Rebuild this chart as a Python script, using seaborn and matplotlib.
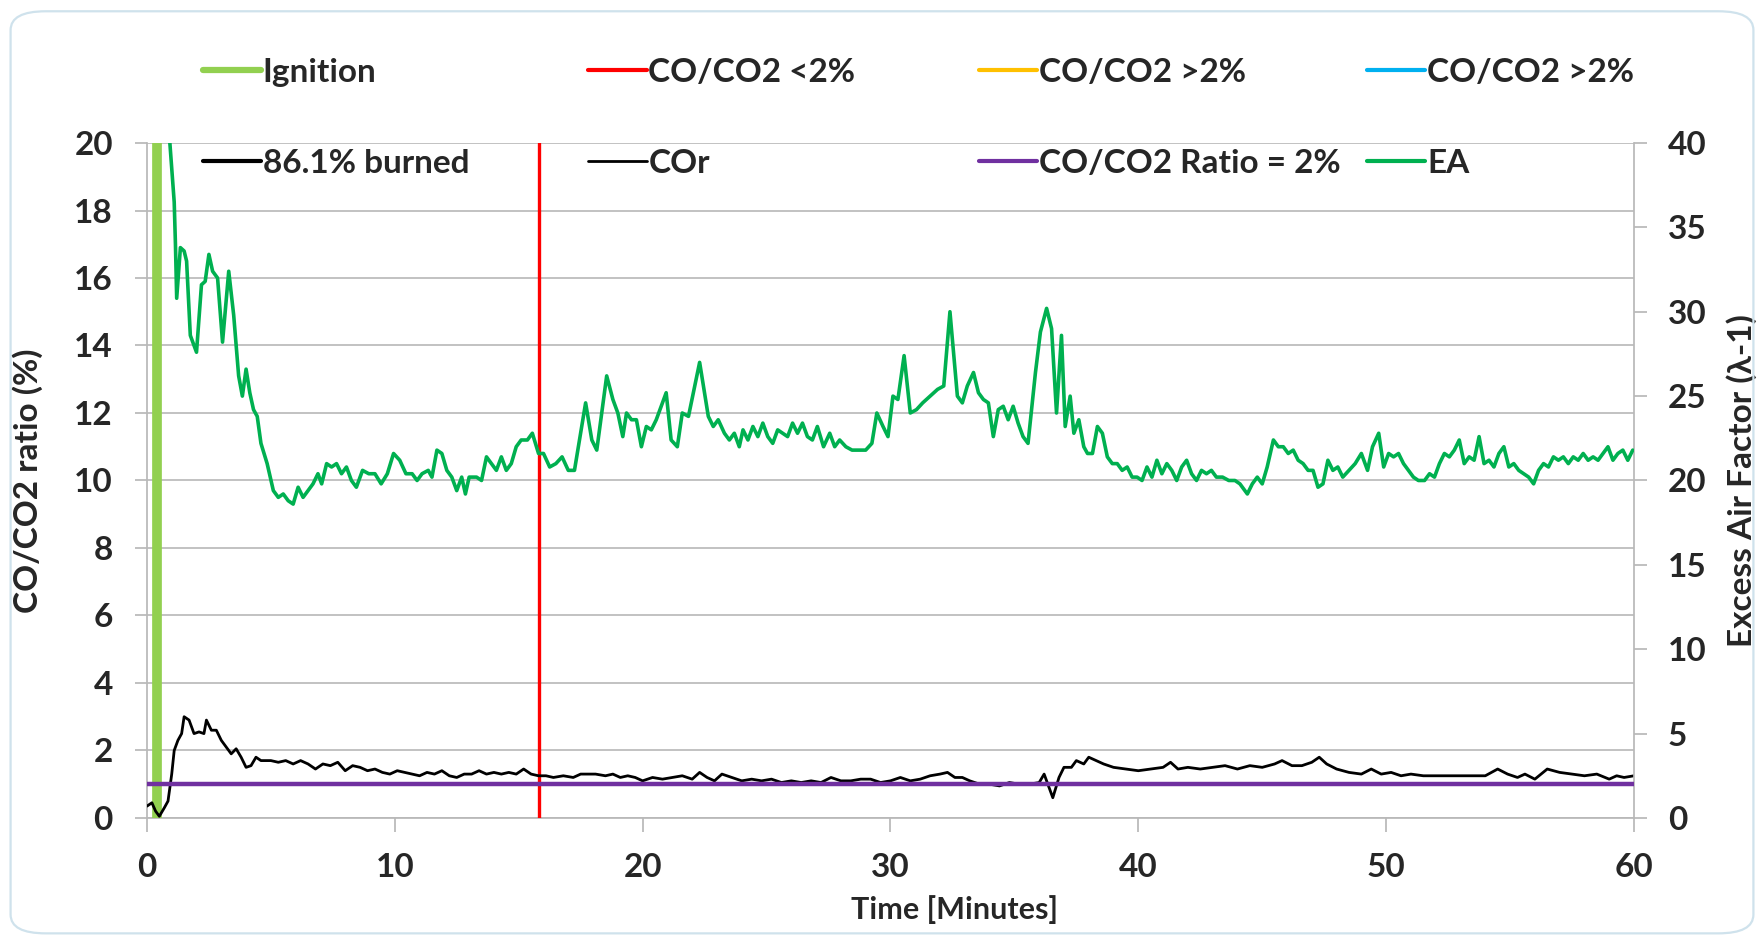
import numpy as np
import pandas as pd
import matplotlib
matplotlib.use("Agg")
import matplotlib.pyplot as plt
import seaborn as sns
from matplotlib.lines import Line2D
from matplotlib.patches import FancyBboxPatch

# Excess air factor (right axis)
ea_time = [0.75, 0.90, 1.00, 1.10, 1.15, 1.20, 1.35, 1.50, 1.60, 1.75, 2.00, 2.20, 2.35, 2.50, 2.65,
           2.85, 3.05, 3.30, 3.50, 3.70, 3.85, 4.00, 4.15, 4.30, 4.45, 4.60, 4.85, 5.10, 5.30, 5.50,
           5.70, 5.90, 6.10, 6.30, 6.50, 6.70, 6.90, 7.05, 7.25, 7.45, 7.65, 7.85, 8.05, 8.25, 8.45,
           8.70, 8.95, 9.20, 9.45, 9.70, 9.95, 10.20, 10.45, 10.70, 10.90, 11.10, 11.35, 11.50, 11.70,
           11.90, 12.10, 12.30, 12.50, 12.70, 12.85, 13.00, 13.30, 13.50, 13.70, 13.90, 14.10, 14.30,
           14.50, 14.70, 14.90, 15.10, 15.35, 15.55, 15.80, 16.00, 16.25, 16.50, 16.75, 17.00, 17.25,
           17.70, 17.95, 18.15, 18.55, 18.80, 19.00, 19.20, 19.35, 19.55, 19.75, 19.95, 20.15, 20.35,
           20.55, 20.95, 21.15, 21.40, 21.60, 21.85, 22.30, 22.65, 22.85, 23.05, 23.30, 23.50, 23.70,
           23.90, 24.05, 24.25, 24.45, 24.65, 24.85, 25.05, 25.25, 25.45, 25.65, 25.85, 26.05, 26.25,
           26.45, 26.65, 26.85, 27.05, 27.30, 27.55, 27.75, 27.95, 28.20, 28.45, 28.75, 29.00, 29.25,
           29.45, 29.70, 29.90, 30.10, 30.30, 30.55, 30.80, 31.05, 31.30, 31.60, 31.90, 32.15, 32.40,
           32.70, 32.90, 33.10, 33.35, 33.55, 33.75, 33.95, 34.15, 34.35, 34.55, 34.75, 34.95, 35.15,
           35.35, 35.55, 35.85, 36.05, 36.30, 36.50, 36.70, 36.90, 37.05, 37.25, 37.40, 37.60, 37.80,
           37.95, 38.15, 38.35, 38.55, 38.75, 38.95, 39.15, 39.35, 39.55, 39.75, 39.95, 40.15, 40.35,
           40.55, 40.75, 40.95, 41.15, 41.35, 41.55, 41.75, 41.95, 42.15, 42.35, 42.55, 42.75, 42.95,
           43.15, 43.40, 43.65, 43.90, 44.10, 44.40, 44.60, 44.80, 45.00, 45.20, 45.45, 45.65, 45.85,
           46.05, 46.25, 46.45, 46.65, 46.85, 47.05, 47.25, 47.45, 47.65, 47.85, 48.05, 48.25, 48.50,
           48.75, 49.00, 49.25, 49.45, 49.70, 49.90, 50.10, 50.30, 50.50, 50.70, 50.90, 51.10, 51.30,
           51.55, 51.75, 51.95, 52.15, 52.35, 52.55, 52.75, 52.95, 53.15, 53.35, 53.55, 53.75, 53.95,
           54.15, 54.35, 54.55, 54.75, 54.95, 55.15, 55.35, 55.55, 55.75, 55.95, 56.15, 56.35, 56.55,
           56.75, 56.95, 57.15, 57.35, 57.55, 57.75, 57.95, 58.15, 58.35, 58.55, 58.75, 58.95, 59.15,
           59.35, 59.55, 59.75, 59.95]
ea_value = [44.0, 40.5, 38.5, 36.5, 34.0, 30.8, 33.8, 33.6, 33.0, 28.6, 27.6, 31.6, 31.8, 33.4, 32.4,
            32.0, 28.2, 32.4, 29.8, 26.2, 25.0, 26.6, 25.2, 24.2, 23.8, 22.2, 21.0, 19.4, 19.0, 19.2,
            18.8, 18.6, 19.6, 19.0, 19.4, 19.8, 20.4, 19.8, 21.0, 20.8, 21.0, 20.4, 20.8, 20.0, 19.6,
            20.6, 20.4, 20.4, 19.8, 20.4, 21.6, 21.2, 20.4, 20.4, 20.0, 20.4, 20.6, 20.2, 21.8,
            21.6, 20.6, 20.2, 19.4, 20.2, 19.2, 20.2, 20.2, 20.0, 21.4, 21.0, 20.6, 21.4,
            20.6, 21.0, 22.0, 22.4, 22.4, 22.8, 21.6, 21.6, 20.8, 21.0, 21.4, 20.6, 20.6,
            24.6, 22.4, 21.8, 26.2, 24.8, 24.0, 22.6, 24.0, 23.6, 23.6, 22.0, 23.2, 23.0,
            23.6, 25.2, 22.4, 22.0, 24.0, 23.8, 27.0, 23.8, 23.2, 23.6, 22.8, 22.4, 22.8,
            22.0, 23.0, 22.4, 23.2, 22.6, 23.4, 22.6, 22.2, 23.0, 22.8, 22.6, 23.4, 22.8,
            23.4, 22.6, 22.4, 23.2, 22.0, 22.8, 22.0, 22.4, 22.0, 21.8, 21.8, 21.8, 22.2,
            24.0, 23.2, 22.6, 25.0, 24.8, 27.4, 24.0, 24.2, 24.6, 25.0, 25.4, 25.6, 30.0,
            25.0, 24.6, 25.6, 26.4, 25.2, 24.8, 24.6, 22.6, 24.2, 24.4, 23.6, 24.4, 23.4,
            22.6, 22.2, 26.4, 28.8, 30.2, 29.0, 24.0, 28.6, 23.2, 25.0, 22.8, 23.6, 22.0,
            21.6, 21.6, 23.2, 22.8, 21.4, 21.0, 21.0, 20.6, 20.8, 20.2, 20.2, 20.0, 20.8,
            20.2, 21.2, 20.4, 21.0, 20.6, 20.0, 20.8, 21.2, 20.4, 20.0, 20.6, 20.4, 20.6,
            20.2, 20.2, 20.0, 20.0, 19.8, 19.2, 19.8, 20.2, 19.8, 20.8, 22.4, 22.0, 22.0,
            21.6, 21.8, 21.2, 21.0, 20.6, 20.6, 19.6, 19.8, 21.2, 20.6, 20.8, 20.2, 20.6,
            21.0, 21.6, 20.6, 22.0, 22.8, 20.8, 21.6, 21.4, 21.6, 21.0, 20.6, 20.2, 20.0,
            20.0, 20.4, 20.2, 21.0, 21.6, 21.4, 21.8, 22.4, 21.0, 21.4, 21.2, 22.6, 21.0,
            21.2, 20.8, 21.6, 22.0, 20.8, 21.0, 20.6, 20.4, 20.2, 19.8, 20.6, 21.0, 20.8,
            21.4, 21.2, 21.4, 21.0, 21.4, 21.2, 21.6, 21.2, 21.4, 21.2, 21.6, 22.0, 21.2,
            21.6, 21.8, 21.2, 21.8]

# CO/CO2 ratio (left axis)
cor_time = [0.0, 0.2, 0.35, 0.5, 0.7, 0.85, 1.0, 1.1, 1.25, 1.4, 1.5, 1.7, 1.9, 2.1, 2.3, 2.4, 2.6,
            2.8, 3.0, 3.2, 3.4, 3.6, 3.8, 4.0, 4.2, 4.4, 4.6, 5.0, 5.3, 5.6, 5.9, 6.2, 6.5, 6.8, 7.1,
            7.4, 7.7, 8.0, 8.3, 8.6, 8.9, 9.2, 9.5, 9.8, 10.1, 10.4, 10.7, 11.0, 11.3, 11.6, 11.9,
            12.2, 12.5, 12.8, 13.1, 13.4, 13.7, 14.0, 14.3, 14.6, 14.9, 15.2, 15.5, 15.8, 16.1, 16.4,
            16.8, 17.2, 17.5, 17.8, 18.1, 18.5, 18.8, 19.1, 19.4, 19.7, 20.0, 20.4, 20.8, 21.2, 21.6,
            22.0, 22.3, 22.6, 22.9, 23.2, 23.6, 24.0, 24.4, 24.8, 25.2, 25.6, 26.0, 26.4, 26.8, 27.2,
            27.6, 28.0, 28.4, 28.8, 29.2, 29.6, 30.0, 30.4, 30.8, 31.2, 31.6, 32.0, 32.3, 32.6, 32.9,
            33.2, 33.6, 34.0, 34.4, 34.8, 35.2, 35.6, 36.0, 36.2, 36.4, 36.55, 36.8, 37.0, 37.3, 37.5,
            37.8, 38.0, 38.3, 38.6, 39.0, 39.5, 40.0, 40.5, 41.0, 41.3, 41.6, 42.0, 42.5, 43.0, 43.5,
            44.0, 44.5, 45.0, 45.5, 45.8, 46.2, 46.6, 47.0, 47.3, 47.6, 48.0, 48.5, 49.0, 49.4, 49.8,
            50.2, 50.6, 51.0, 51.5, 52.0, 52.5, 53.0, 53.5, 54.0, 54.5, 54.9, 55.3, 55.6, 56.0, 56.5,
            57.0, 57.5, 58.0, 58.5, 59.0, 59.3, 59.6, 60.0]
cor_value = [0.35, 0.45, 0.2, 0.05, 0.3, 0.5, 1.3, 2.0, 2.3, 2.5, 3.0, 2.9, 2.5, 2.55, 2.5, 2.9, 2.6,
             2.6, 2.3, 2.1, 1.9, 2.05, 1.8, 1.5, 1.55, 1.8, 1.7, 1.7, 1.65, 1.7, 1.6, 1.7, 1.6, 1.45,
             1.6, 1.55, 1.65, 1.4, 1.55, 1.5, 1.4, 1.45, 1.35, 1.3, 1.4, 1.35, 1.3, 1.25, 1.35, 1.3,
             1.4, 1.25, 1.2, 1.3, 1.3, 1.4, 1.3, 1.35, 1.3, 1.35, 1.3, 1.45, 1.3, 1.25, 1.25, 1.2,
             1.25, 1.2, 1.3, 1.3, 1.3, 1.25, 1.3, 1.2, 1.25, 1.2, 1.1, 1.2, 1.15, 1.2, 1.25,
             1.15, 1.35, 1.2, 1.1, 1.3, 1.2, 1.1, 1.15, 1.1, 1.15, 1.05, 1.1, 1.05, 1.1, 1.05,
             1.2, 1.1, 1.1, 1.15, 1.15, 1.05, 1.1, 1.2, 1.1, 1.15, 1.25, 1.3, 1.35, 1.2, 1.2,
             1.1, 1.0, 1.0, 0.95, 1.05, 1.0, 1.0, 1.05, 1.3, 0.9, 0.6, 1.2, 1.5, 1.5, 1.7,
             1.6, 1.8, 1.7, 1.6, 1.5, 1.45, 1.4, 1.45, 1.5, 1.65, 1.45, 1.5, 1.45, 1.5, 1.55,
             1.45, 1.55, 1.5, 1.6, 1.7, 1.55, 1.55, 1.65, 1.8, 1.6, 1.45, 1.35, 1.3, 1.45, 1.3,
             1.35, 1.25, 1.3, 1.25, 1.25, 1.25, 1.25, 1.25, 1.25, 1.45, 1.3, 1.2, 1.3, 1.15, 1.45,
             1.35, 1.3, 1.25, 1.3, 1.15, 1.25, 1.2, 1.25]

ignition_time = 0.4      # minutes
threshold_time = 15.8    # CO/CO2 drops below 2 %
ratio_limit = 2.0        # on the EA scale

legend_labels = ["Ignition", "86.1% burned", "CO/CO2 <2%", "COr",
                 "CO/CO2 >2%", "CO/CO2 Ratio = 2%", "CO/CO2 >2%", "EA"]

x_ticks = [0, 10, 20, 30, 40, 50, 60]
left_ticks = [0, 2, 4, 6, 8, 10, 12, 14, 16, 18, 20]
right_ticks = [0, 5, 10, 15, 20, 25, 30, 35, 40]

sns.set_theme(style="white")
plt.rcParams['font.family'] = ['Lato', 'DejaVu Sans']
plt.rcParams['font.weight'] = 'bold'

ea_df = pd.DataFrame({"time": ea_time, "EA": ea_value})
cor_df = pd.DataFrame({"time": cor_time, "COr": cor_value})

fig = plt.figure(figsize=(17.64, 9.39), dpi=100)
ax = fig.add_axes([0.0833, 0.1289, 0.843, 0.7188])
ax2 = ax.twinx()

green_ign = "#92D050"
red = "#FF0000"
purple = "#7030A0"
ea_green = "#00B050"
grid_c = "#b8b8b8"

ax.axvline(ignition_time, color=green_ign, lw=7, zorder=3)
ax.axvline(threshold_time, color=red, lw=2.4, zorder=3)
sns.lineplot(data=cor_df, x="time", y="COr", ax=ax, color="black", lw=2.0, zorder=4)

sns.lineplot(data=ea_df, x="time", y="EA", ax=ax2, color=ea_green, lw=2.6, zorder=3)
ax2.axhline(ratio_limit, color=purple, lw=3.2, zorder=5)

ax.set_xlim(0, 60)
ax.set_ylim(0, 20)
ax2.set_ylim(0, 40)
ax.set_xticks(x_ticks)
ax.set_yticks(left_ticks)
ax2.set_yticks(right_ticks)
ax.grid(axis='y', color=grid_c, lw=1.2)
ax.grid(axis='x', visible=False)
ax2.grid(False)

for a in (ax, ax2):
    for s in a.spines.values():
        s.set_visible(False)
ax.spines['left'].set_visible(True)
ax.spines['left'].set_color(grid_c)
ax.spines['bottom'].set_visible(True)
ax.spines['bottom'].set_color(grid_c)
ax2.spines['right'].set_visible(True)
ax2.spines['right'].set_color(grid_c)

fs = 24
ax.tick_params(axis='x', bottom=True, direction='out', length=10, color=grid_c, labelsize=fs, pad=15)
ax.tick_params(axis='y', left=True, direction='out', length=8.5, color=grid_c, labelsize=fs, pad=16)
ax2.tick_params(axis='y', right=True, direction='out', length=9.5, color=grid_c, labelsize=fs, pad=15)
for lab in ax.get_xticklabels() + ax.get_yticklabels() + ax2.get_yticklabels():
    lab.set_fontweight('bold')

ax.set_xlabel("Time [Minutes]", fontsize=22, fontweight='bold')
ax.set_ylabel("CO/CO2 ratio (%)", fontsize=fs, fontweight='bold')
ax2.set_ylabel("Excess Air Factor (λ-1)", fontsize=fs, fontweight='bold', rotation=90)
ax.xaxis.set_label_coords(0.543, -0.115)
ax.yaxis.set_label_coords(-0.070, 0.5)
ax2.yaxis.set_label_coords(1.062, 0.5)

# legend: one entry per slot, Excel style layout (4 columns x 2 rows)
handles = [Line2D([], [], color=green_ign, lw=4.5), Line2D([], [], color="black", lw=3),
           Line2D([], [], color=red, lw=3), Line2D([], [], color="black", lw=2),
           Line2D([], [], color="#FFC000", lw=3), Line2D([], [], color=purple, lw=3),
           Line2D([], [], color="#00B0F0", lw=3), Line2D([], [], color=ea_green, lw=3)]
col_x = [0.1148, 0.3335, 0.555, 0.775]
row_y = [0.923, 0.826]
for i, (h, lab) in enumerate(zip(handles, legend_labels)):
    leg = fig.legend([h], [lab], loc='center left',
                     bbox_to_anchor=(col_x[i // 2], row_y[i % 2]), frameon=False,
                     fontsize=fs, handlelength=1.75, handletextpad=0.05,
                     borderpad=0, borderaxespad=0)
    for t in leg.get_texts():
        t.set_fontweight('bold')

fig.patches.append(FancyBboxPatch((0.006, 0.006), 0.988, 0.982,
                                  boxstyle="round,pad=0,rounding_size=0.02",
                                  transform=fig.transFigure, fill=False,
                                  edgecolor="#cfe2ec", lw=1.6))

fig.savefig("out.png", dpi=100)
